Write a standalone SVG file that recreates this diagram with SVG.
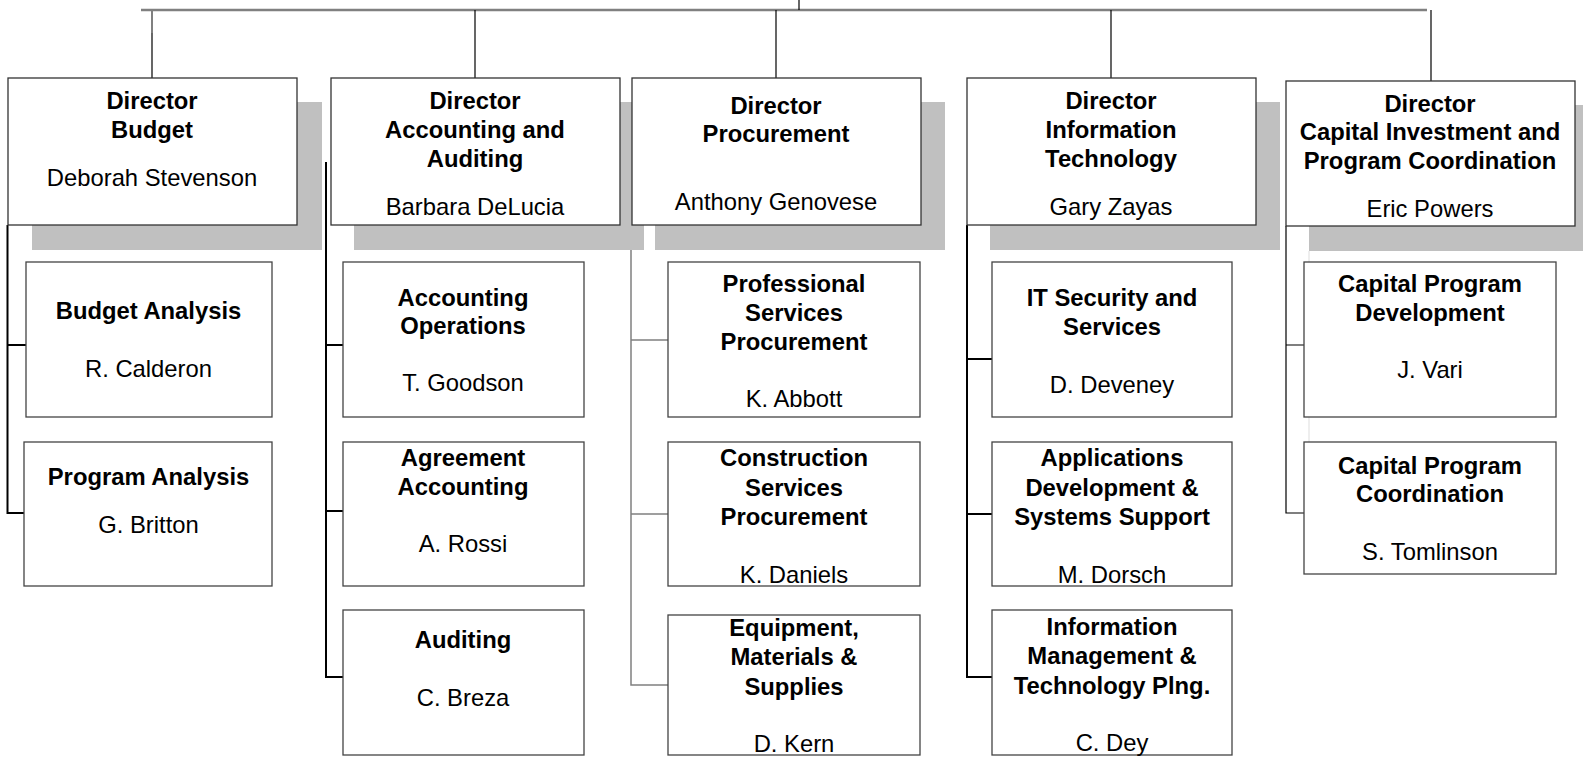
<svg xmlns="http://www.w3.org/2000/svg" width="1583" height="761" viewBox="0 0 1583 761">
<style>
text{font-family:"Liberation Sans",Arial,sans-serif;font-size:23.8px;fill:#000;text-anchor:middle;dominant-baseline:central}
.b{font-weight:bold}
.dir{fill:#fff;stroke:#333;stroke-width:1.3}
.sh{fill:#c0c0c0}
.sub{fill:#fff;stroke:#444;stroke-width:1.3}
.k{stroke:#000;stroke-width:2;fill:none}
.g{stroke:#808080;stroke-width:1.5;fill:none}
.t{stroke:#000;stroke-width:1.2;fill:none}
</style>
<g id="connectors">
<line x1="141" y1="10" x2="1427" y2="10" stroke="#808080" stroke-width="2.5"/>
<line class="t" x1="799" y1="0" x2="799" y2="10"/>
<line x1="152" y1="10" x2="152" y2="33" stroke="#808080" stroke-width="2"/>
<line class="t" x1="152" y1="33" x2="152" y2="78"/>
<line class="t" x1="475" y1="10" x2="475" y2="78"/>
<line class="t" x1="776" y1="10" x2="776" y2="78"/>
<line class="t" x1="1111" y1="10" x2="1111" y2="78"/>
<line class="t" x1="1431" y1="10" x2="1431" y2="81"/>
<path class="k" d="M7.5 225V513H24M7.5 345H26"/>
<path class="k" d="M326 162V677H343M326 345H343M326 511H343"/>
<path class="g" d="M631 151V685H668M631 340H668M631 514H668"/>
<path class="k" d="M967 225V677H992M967 359H992M967 514H992"/>
<path class="t" d="M1286 226V513H1304M1286 345H1304"/>
<line x1="1309" y1="251" x2="1309" y2="442" stroke="#ddd" stroke-width="1"/>
</g>
<g id="dir-budget">
<rect class="sh" x="32" y="102" width="290" height="148"/>
<rect class="dir" x="8" y="78" width="289" height="147"/>
<text class="b" x="152" y="100">Director</text>
<text class="b" x="152" y="129">Budget</text>
<text x="152" y="177">Deborah Stevenson</text>
</g>
<g id="dir-accounting">
<rect class="sh" x="354" y="102" width="290" height="148"/>
<rect class="dir" x="331" y="78" width="289" height="147"/>
<text class="b" x="475" y="100">Director</text>
<text class="b" x="475" y="129">Accounting and</text>
<text class="b" x="475" y="158">Auditing</text>
<text x="475" y="206">Barbara DeLucia</text>
</g>
<g id="dir-procurement">
<rect class="sh" x="655" y="102" width="290" height="148"/>
<rect class="dir" x="632" y="78" width="289" height="147"/>
<text class="b" x="776" y="105">Director</text>
<text class="b" x="776" y="133">Procurement</text>
<text x="776" y="201">Anthony Genovese</text>
</g>
<g id="dir-it">
<rect class="sh" x="990" y="102" width="290" height="148"/>
<rect class="dir" x="967" y="78" width="289" height="147"/>
<text class="b" x="1111" y="100">Director</text>
<text class="b" x="1111" y="129">Information</text>
<text class="b" x="1111" y="158">Technology</text>
<text x="1111" y="206">Gary Zayas</text>
</g>
<g id="dir-capital">
<rect class="sh" x="1309" y="105" width="290" height="146"/>
<rect class="dir" x="1286" y="81" width="289" height="145"/>
<text class="b" x="1430" y="103">Director</text>
<text class="b" x="1430" y="131">Capital Investment and</text>
<text class="b" x="1430" y="160">Program Coordination</text>
<text x="1430" y="208">Eric Powers</text>
</g>
<g id="budget-analysis">
<rect class="sub" x="26" y="262" width="246" height="155"/>
<text class="b" x="148.5" y="310">Budget Analysis</text>
<text x="148.5" y="368">R. Calderon</text>
</g>
<g id="program-analysis">
<rect class="sub" x="24" y="442" width="248" height="144"/>
<text class="b" x="148.5" y="476">Program Analysis</text>
<text x="148.5" y="524">G. Britton</text>
</g>
<g id="accounting-operations">
<rect class="sub" x="343" y="262" width="241" height="155"/>
<text class="b" x="463" y="297">Accounting</text>
<text class="b" x="463" y="325">Operations</text>
<text x="463" y="382">T. Goodson</text>
</g>
<g id="agreement-accounting">
<rect class="sub" x="343" y="442" width="241" height="144"/>
<text class="b" x="463" y="457">Agreement</text>
<text class="b" x="463" y="486">Accounting</text>
<text x="463" y="543">A. Rossi</text>
</g>
<g id="auditing">
<rect class="sub" x="343" y="610" width="241" height="145"/>
<text class="b" x="463" y="639">Auditing</text>
<text x="463" y="697">C. Breza</text>
</g>
<g id="professional-services">
<rect class="sub" x="668" y="262" width="252" height="155"/>
<text class="b" x="794" y="283">Professional</text>
<text class="b" x="794" y="312">Services</text>
<text class="b" x="794" y="341">Procurement</text>
<text x="794" y="398">K. Abbott</text>
</g>
<g id="construction-services">
<rect class="sub" x="668" y="442" width="252" height="144"/>
<text class="b" x="794" y="457">Construction</text>
<text class="b" x="794" y="487">Services</text>
<text class="b" x="794" y="516">Procurement</text>
<text x="794" y="574">K. Daniels</text>
</g>
<g id="equipment">
<rect class="sub" x="668" y="615" width="252" height="140"/>
<text class="b" x="794" y="627">Equipment,</text>
<text class="b" x="794" y="656">Materials &amp;</text>
<text class="b" x="794" y="686">Supplies</text>
<text x="794" y="743">D. Kern</text>
</g>
<g id="it-security">
<rect class="sub" x="992" y="262" width="240" height="155"/>
<text class="b" x="1112" y="297">IT Security and</text>
<text class="b" x="1112" y="326">Services</text>
<text x="1112" y="384">D. Deveney</text>
</g>
<g id="applications">
<rect class="sub" x="992" y="442" width="240" height="144"/>
<text class="b" x="1112" y="457">Applications</text>
<text class="b" x="1112" y="487">Development &amp;</text>
<text class="b" x="1112" y="516">Systems Support</text>
<text x="1112" y="574">M. Dorsch</text>
</g>
<g id="info-management">
<rect class="sub" x="992" y="610" width="240" height="145"/>
<text class="b" x="1112" y="626">Information</text>
<text class="b" x="1112" y="655">Management &amp;</text>
<text class="b" x="1112" y="685">Technology Plng.</text>
<text x="1112" y="742">C. Dey</text>
</g>
<g id="capital-development">
<rect class="sub" x="1304" y="262" width="252" height="155"/>
<text class="b" x="1430" y="283">Capital Program</text>
<text class="b" x="1430" y="312">Development</text>
<text x="1430" y="369">J. Vari</text>
</g>
<g id="capital-coordination">
<rect class="sub" x="1304" y="442" width="252" height="132"/>
<text class="b" x="1430" y="465">Capital Program</text>
<text class="b" x="1430" y="493">Coordination</text>
<text x="1430" y="551">S. Tomlinson</text>
</g>
</svg>
